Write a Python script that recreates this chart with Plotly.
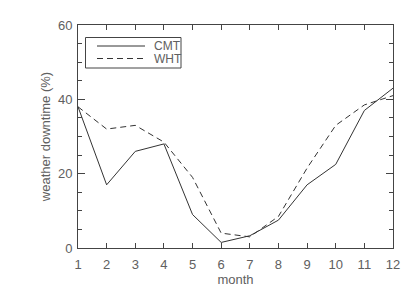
import plotly.graph_objects as go

months = list(range(1, 13))
cmt = [38, 17, 26, 28, 9, 1.5, 3.3, 7.5, 17, 22.5, 37, 43]
wht = [38, 32, 33, 28.5, 19, 4, 3, 8.5, 21.5, 33, 38.5, 41]
series_names = ["CMT", "WHT"]
x_ticks = list(range(1, 13))
y_ticks = [0, 20, 40, 60]

# page has an 8px body margin, so the figure is made 8px smaller
OFF = 8
W, H = 417 - OFF, 298 - OFF
L, R, T, B = 78 - OFF, 24, 25 - OFF, 50
PW, PH = W - L - R, H - T - B

def px(x):  # screen pixel -> paper
    return (x - OFF - L) / PW

def py(y):
    return 1 - (y - OFF - T) / PH

txt = "#606060"
ax = "#444444"
line_c = "#333333"
dash = "6px,4px"

fig = go.Figure()
fig.add_trace(go.Scatter(x=months, y=cmt, name=series_names[0], mode="lines",
                         line=dict(color=line_c, width=1)))
fig.add_trace(go.Scatter(x=months, y=wht, name=series_names[1], mode="lines",
                         line=dict(color=line_c, width=1, dash=dash)))

# legend box drawn by hand (to match the compact original)
shapes = [
    dict(type="rect", xref="paper", yref="paper", x0=px(85.5), x1=px(181), y0=py(68), y1=py(37.5),
         line=dict(color=ax, width=1), fillcolor="rgba(0,0,0,0)"),
    dict(type="line", xref="paper", yref="paper", x0=px(97), x1=px(145), y0=py(46), y1=py(46),
         line=dict(color=line_c, width=1)),
    dict(type="line", xref="paper", yref="paper", x0=px(97), x1=px(145), y0=py(58.5), y1=py(58.5),
         line=dict(color=line_c, width=1, dash=dash)),
]
annotations = [
    dict(text=series_names[0], xref="paper", yref="paper", x=px(152), y=py(46), xanchor="left",
         yanchor="middle", showarrow=False, font=dict(size=12, color=txt)),
    dict(text=series_names[1], xref="paper", yref="paper", x=px(152), y=py(58.5), xanchor="left",
         yanchor="middle", showarrow=False, font=dict(size=12, color=txt)),
]

fig.update_layout(
    width=W, height=H,
    margin=dict(l=L, r=R, t=T, b=B, autoexpand=False),
    paper_bgcolor="white", plot_bgcolor="white",
    font=dict(family="Liberation Sans, Arial, sans-serif", size=13, color=txt),
    showlegend=False,
    shapes=shapes, annotations=annotations,
    xaxis=dict(range=[1, 12], tickvals=x_ticks, ticktext=[str(v) for v in x_ticks],
               ticks="inside", ticklen=5, tickcolor=ax, showline=True, linecolor=ax,
               linewidth=1, mirror="ticks", showgrid=False, zeroline=False,
               ticklabelstandoff=4, automargin=False,
               title=dict(text="month", standoff=0, font=dict(size=13, color=txt)),
               tickfont=dict(size=13)),
    yaxis=dict(range=[0, 60], tickvals=y_ticks, ticks="inside", ticklen=7,
               tickcolor=ax, showline=True, linecolor=ax, linewidth=1,
               mirror="ticks", showgrid=False, zeroline=False,
               ticklabelstandoff=2, automargin=False,
               minor=dict(dtick=5, ticks="inside", ticklen=4, tickcolor=ax, showgrid=False),
               title=dict(text="weather downtime (%)", standoff=4, font=dict(size=13, color=txt)),
               tickfont=dict(size=13)),
)
fig.write_html("out.html")
